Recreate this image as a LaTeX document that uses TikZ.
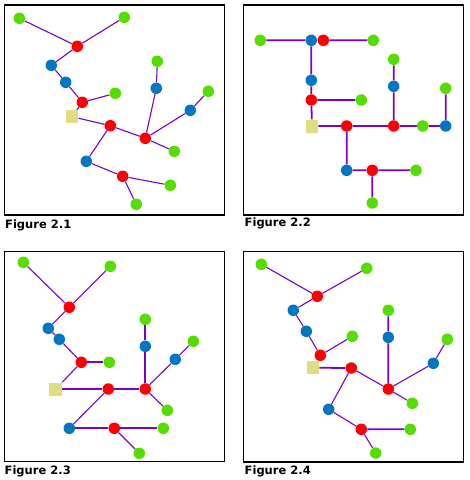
\documentclass[tikz,border=0pt]{standalone}
\usepackage{fontspec}
\setmainfont{DejaVu Sans}
\usetikzlibrary{backgrounds}
\definecolor{gn}{RGB}{85,221,0}
\definecolor{rd}{RGB}{255,0,0}
\definecolor{bl}{RGB}{0,119,192}
\definecolor{sq}{RGB}{224,220,130}
\definecolor{pu}{RGB}{122,0,204}
\tikzset{
  dotg/.style={circle,fill=gn,inner sep=0pt,minimum size=11.5pt},
  dotr/.style={circle,fill=rd,inner sep=0pt,minimum size=11.5pt},
  dotb/.style={circle,fill=bl,inner sep=0pt,minimum size=11.5pt},
  sqbox/.style={rectangle,fill=sq,inner sep=0pt,minimum width=12.5pt,minimum height=13pt},
  ln/.style={draw=pu,line width=1.1pt},
  lnb/.style={draw=pu,line width=1.8pt},
  boxframe/.style={draw=black,line width=1.4pt},
  figcap/.style={font=\fontsize{11.5}{13}\selectfont\bfseries,anchor=west,inner sep=0pt}
}
\begin{document}
\begin{tikzpicture}[x=1pt,y=-1pt]
\useasboundingbox (0,0) rectangle (470,480);
% frames
\draw[boxframe] (4.5,5) rectangle (224.5,215);
\draw[boxframe] (243.5,5) rectangle (463.5,215);
\draw[boxframe] (4.5,251.5) rectangle (224.5,461.5);
\draw[boxframe] (243.5,251.5) rectangle (463.5,462);
% captions
\node[figcap] (c1) at (5,225) {Figure 2.1};
\node[figcap] (c2) at (244.5,223.5) {Figure 2.2};
\node[figcap] (c3) at (4.5,471) {Figure 2.3};
\node[figcap] (c4) at (244.5,471.5) {Figure 2.4};
% ---------- Figure 2.1
\node[dotg] (a1) at (19.3,18.3) {};
\node[dotg] (a2) at (124.3,17.3) {};
\node[dotr] (a3) at (77.3,46.3) {};
\node[dotb] (a4) at (51.3,65.3) {};
\node[dotb] (a5) at (65.7,82.3) {};
\node[dotr] (a6) at (82.3,102.3) {};
\node[dotg] (a7) at (115.3,93.3) {};
\node[sqbox] (a8) at (72,116.7) {};
\node[dotr] (a9) at (110.3,125.7) {};
\node[dotr] (a10) at (145.3,138.3) {};
\node[dotg] (a11) at (157.3,61.3) {};
\node[dotb] (a12) at (156.3,88.3) {};
\node[dotg] (a13) at (208.3,91.3) {};
\node[dotb] (a14) at (190.3,110.3) {};
\node[dotg] (a15) at (174.3,151.3) {};
\node[dotb] (a16) at (86.3,161.3) {};
\node[dotr] (a17) at (122.7,176.3) {};
\node[dotg] (a18) at (170.3,185.3) {};
\node[dotg] (a19) at (136.3,204.3) {};
\begin{scope}[on background layer]
\draw[ln] (a1)--(a3) (a2)--(a3) (a3)--(a4) (a4)--(a5) (a5)--(a6) (a6)--(a7) (a6)--(a8)
  (a8)--(a9) (a9)--(a10) (a10)--(a12) (a12)--(a11) (a10)--(a14) (a14)--(a13) (a10)--(a15)
  (a9)--(a16) (a16)--(a17) (a17)--(a18) (a17)--(a19);
\end{scope}
% ---------- Figure 2.2
\node[dotg] (b1) at (260.3,40.3) {};
\node[dotb] (b2) at (311.3,40.3) {};
\node[dotr] (b3) at (323.3,40.3) {};
\node[dotg] (b4) at (373.3,40.3) {};
\node[dotb] (b5) at (311.3,80.3) {};
\node[dotr] (b6) at (311.3,100) {};
\node[dotg] (b7) at (361.3,100) {};
\node[sqbox] (b8) at (312,126) {};
\node[dotr] (b9) at (346.7,126) {};
\node[dotr] (b10) at (393.7,126) {};
\node[dotg] (b11) at (422.7,126) {};
\node[dotb] (b12) at (445.7,126) {};
\node[dotg] (b13) at (445.7,88.3) {};
\node[dotg] (b14) at (393.7,59.3) {};
\node[dotb] (b15) at (393.7,86.3) {};
\node[dotb] (b16) at (346.7,170.3) {};
\node[dotr] (b17) at (372.3,170.3) {};
\node[dotg] (b18) at (416,170.3) {};
\node[dotg] (b19) at (372.3,203) {};
\begin{scope}[on background layer]
\draw[lnb] (b1)--(b2) (b2)--(b3) (b3)--(b4) (b2)--(b5) (b5)--(b6) (b6)--(b7) (b6)--(b8)
  (b8)--(b9) (b9)--(b10) (b10)--(b11) (b11)--(b12) (b12)--(b13) (b10)--(b15) (b15)--(b14)
  (b9)--(b16) (b16)--(b17) (b17)--(b18) (b17)--(b19);
\end{scope}
% ---------- Figure 2.3
\node[dotg] (c1n) at (23.3,262.3) {};
\node[dotg] (c2n) at (110.3,266.3) {};
\node[dotr] (c3n) at (69.3,307.3) {};
\node[dotb] (c4n) at (48.3,328.3) {};
\node[dotb] (c5n) at (59.3,339.3) {};
\node[dotr] (c6n) at (81.3,362.3) {};
\node[dotg] (c7n) at (109.3,362.3) {};
\node[sqbox] (c8n) at (55.7,389) {};
\node[dotr] (c9n) at (108.3,389) {};
\node[dotr] (c10n) at (145.3,389) {};
\node[dotg] (c11n) at (145.3,319.3) {};
\node[dotb] (c12n) at (145.3,346.3) {};
\node[dotg] (c13n) at (193.3,341.3) {};
\node[dotb] (c14n) at (175.3,359.3) {};
\node[dotg] (c15n) at (167.3,410.3) {};
\node[dotb] (c16n) at (69.3,428.3) {};
\node[dotr] (c17n) at (114.3,428.3) {};
\node[dotg] (c18n) at (163.3,428.3) {};
\node[dotg] (c19n) at (139.3,453.3) {};
\begin{scope}[on background layer]
\draw[ln] (c1n)--(c3n) (c2n)--(c3n) (c3n)--(c4n) (c4n)--(c5n) (c5n)--(c6n) (c6n)--(c8n)
  (c10n)--(c14n) (c14n)--(c13n) (c10n)--(c15n) (c9n)--(c16n) (c17n)--(c19n);
\draw[lnb] (c6n)--(c7n) (c8n)--(c9n) (c9n)--(c10n) (c10n)--(c12n) (c12n)--(c11n)
  (c16n)--(c17n) (c17n)--(c18n);
\end{scope}
% ---------- Figure 2.4
\node[dotg] (d1) at (261.3,264.3) {};
\node[dotg] (d2) at (366.7,268.3) {};
\node[dotr] (d3) at (317.3,296.3) {};
\node[dotb] (d4) at (293.3,310.3) {};
\node[dotb] (d5) at (306.3,331.3) {};
\node[dotr] (d6) at (320.3,355.3) {};
\node[dotg] (d7) at (352.3,336.3) {};
\node[sqbox] (d8) at (313,367.7) {};
\node[dotr] (d9) at (351.3,368) {};
\node[dotr] (d10) at (388.3,389) {};
\node[dotg] (d11) at (388.3,310.3) {};
\node[dotb] (d12) at (388.3,337.3) {};
\node[dotg] (d13) at (447.3,339.3) {};
\node[dotb] (d14) at (433.3,363.3) {};
\node[dotg] (d15) at (412.3,403.3) {};
\node[dotb] (d16) at (328.7,409.3) {};
\node[dotr] (d17) at (361.3,429.3) {};
\node[dotg] (d18) at (410.3,429.3) {};
\node[dotg] (d19) at (375.7,453) {};
\begin{scope}[on background layer]
\draw[ln] (d1)--(d3) (d2)--(d3) (d3)--(d4) (d4)--(d5) (d5)--(d6) (d6)--(d7)
  (d9)--(d10) (d10)--(d14) (d14)--(d13) (d10)--(d15)
  (d9)--(d16) (d16)--(d17) (d17)--(d19);
\draw[lnb] (d8)--(d9) (d10)--(d12) (d12)--(d11) (d17)--(d18);
\end{scope}
\end{tikzpicture}
\end{document}
